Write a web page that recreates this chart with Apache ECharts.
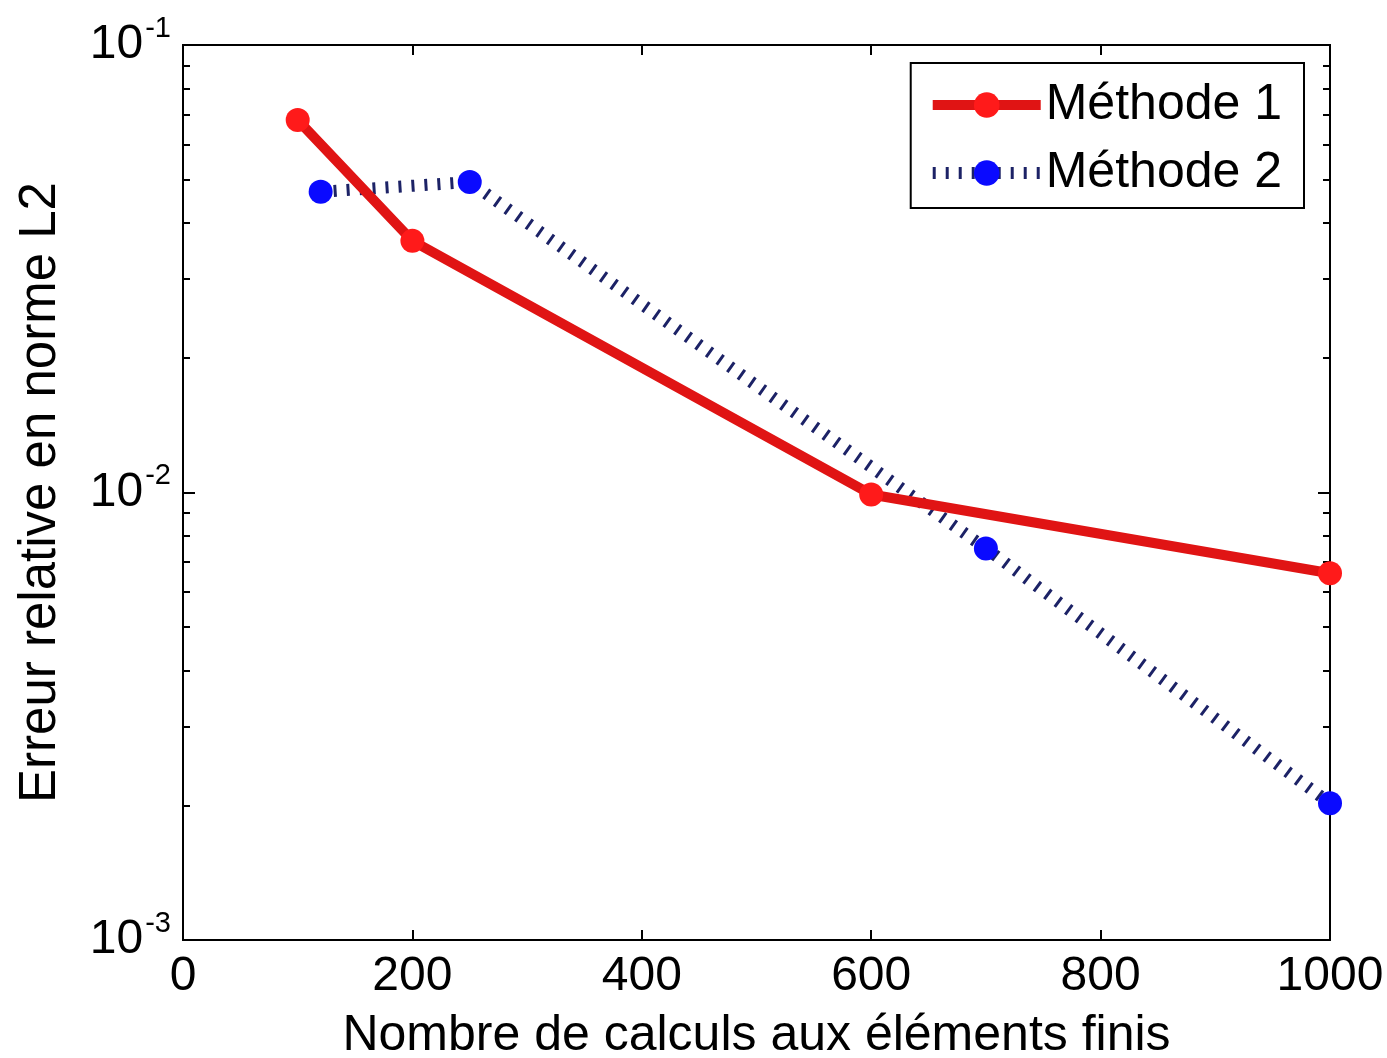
<!DOCTYPE html>
<html>
<head>
<meta charset="utf-8">
<script src="https://cdn.jsdelivr.net/npm/echarts@6/dist/echarts.min.js"></script>
<style>
html,body{margin:0;padding:0;background:#fff;}
#chart{width:1387px;height:1058px;}
</style>
</head>
<body>
<div id="chart"></div>
<script>
// ---- data ----
const seriesNames = ['Méthode 1', 'Méthode 2'];
const method1X = [100, 200, 600, 1000];
const method1Y = [0.068, 0.0365, 0.0099, 0.0066];
const method2X = [120, 250, 700, 1000];
const method2Y = [0.047, 0.0494, 0.0075, 0.00202];
const xTicks = [0, 200, 400, 600, 800, 1000];
const yMajorTicks = [0.001, 0.01, 0.1];
const yMinorTicks = [0.002, 0.003, 0.004, 0.005, 0.006, 0.007, 0.008, 0.009,
                     0.02, 0.03, 0.04, 0.05, 0.06, 0.07, 0.08, 0.09];
const xAxisTitle = 'Nombre de calculs aux éléments finis';
const yAxisTitle = 'Erreur relative en norme L2';

const FONT = '"Liberation Sans", Arial, sans-serif';
const chart = echarts.init(document.getElementById('chart'), null, {renderer: 'canvas'});

function pairs(xs, ys) { return xs.map((x, i) => [x, ys[i]]); }

const yLabelFmt = v => {
  const e = Math.round(Math.log10(v));
  return '{b|10}{s|' + e + '}';
};

const yBase = (position, ticks, len, showLabel, showName) => ({
  type: 'log', logBase: 10, min: 0.001, max: 0.1, position: position,
  gridIndex: 0,
  axisLine: {show: true, onZero: false, lineStyle: {color: '#000', width: 2}},
  axisTick: {show: true, inside: true, length: len, customValues: ticks, lineStyle: {color: '#000', width: 2}},
  splitLine: {show: false},
  minorTick: {show: false},
  axisLabel: showLabel ? {
    show: true, customValues: yMajorTicks, formatter: yLabelFmt, margin: 12,
    rich: {
      b: {fontSize: 48, fontFamily: FONT, color: '#000', verticalAlign: 'bottom', lineHeight: 48},
      s: {fontSize: 29, fontFamily: FONT, color: '#000', verticalAlign: 'bottom', lineHeight: 30, padding: [0, 0, 26, 2]}
    }
  } : {show: false},
  name: showName ? yAxisTitle : '',
  nameLocation: 'middle', nameRotate: 90, nameGap: 117,
  nameTextStyle: {fontSize: 51, fontFamily: FONT, color: '#000'}
});

const xBase = (position, showLabel, showName) => ({
  type: 'value', min: 0, max: 1000, interval: 200, position: position,
  axisLine: {show: true, onZero: false, lineStyle: {color: '#000', width: 2}},
  axisTick: {show: true, inside: true, length: 10, customValues: xTicks, lineStyle: {color: '#000', width: 2}},
  splitLine: {show: false},
  axisLabel: showLabel ? {show: true, customValues: xTicks, formatter: v => String(v), fontSize: 48, fontFamily: FONT, color: '#000', margin: 13} : {show: false},
  name: showName ? xAxisTitle : '',
  nameLocation: 'middle', nameGap: 71,
  nameTextStyle: {fontSize: 50, fontFamily: FONT, color: '#000'}
});

const option = {
  backgroundColor: '#fff',
  animation: false,
  grid: {left: 183, right: 57, top: 45, bottom: 118, show: false, outerBoundsMode: 'none', containLabel: false},
  xAxis: [xBase('bottom', true, true), xBase('top', false, false)],
  yAxis: [
    yBase('left', yMajorTicks, 12, true, true),
    yBase('left', yMinorTicks, 7, false, false),
    yBase('right', yMajorTicks, 12, false, false),
    yBase('right', yMinorTicks, 7, false, false)
  ],
  legend: {
    orient: 'vertical', right: 83, top: 63,
    data: seriesNames,
    itemWidth: 108, itemHeight: 32, itemGap: 18,
    padding: [17, 22, 10, 16],
    borderColor: '#000', borderWidth: 2, backgroundColor: '#fff',
    lineStyle: {width: 'inherit', type: 'inherit'},
    textStyle: {fontSize: 50, fontFamily: FONT, color: '#000'}
  },
  series: [
    {
      name: seriesNames[0], type: 'line', xAxisIndex: 0, yAxisIndex: 0,
      data: pairs(method1X, method1Y),
      symbol: 'circle', symbolSize: 24,
      lineStyle: {color: '#e01414', width: 10},
      itemStyle: {color: '#ff1a1a'},
      z: 3
    },
    {
      name: seriesNames[1], type: 'line', xAxisIndex: 0, yAxisIndex: 0,
      data: pairs(method2X, method2Y),
      symbol: 'circle', symbolSize: 24,
      lineStyle: {color: '#1c2266', width: 12, type: [3, 10]},
      itemStyle: {color: '#0a0aff'},
      z: 2
    }
  ]
};
chart.setOption(option);
</script>
</body>
</html>
